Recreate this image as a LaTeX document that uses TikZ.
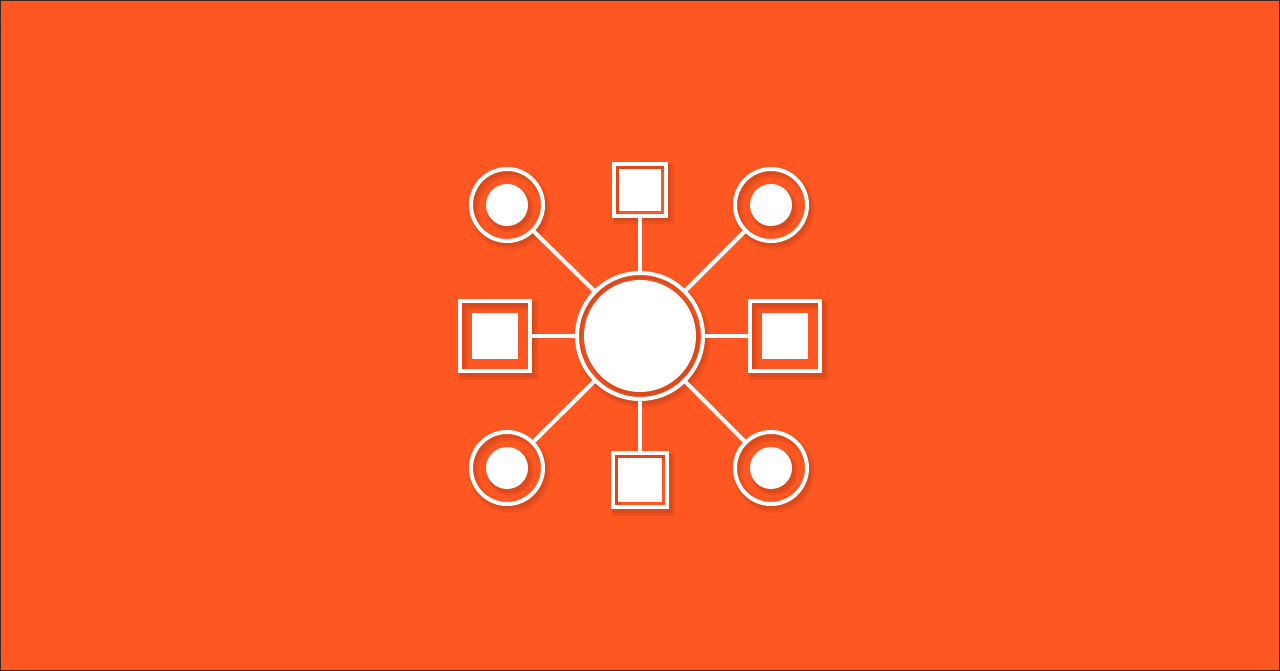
\documentclass[tikz,border=0pt]{standalone}
\usepackage{tikz}
\usetikzlibrary{positioning}

\definecolor{bgorange}{RGB}{255,87,34}
\definecolor{frameline}{RGB}{60,40,30}

\tikzset{
  ring/.style={circle, draw=white, line width=4pt, inner sep=0pt},
  box/.style={rectangle, draw=white, line width=4pt, inner sep=0pt},
  link/.style={white, line width=4pt},
  shade layer/.style={black, opacity=0.07}
}

\begin{document}
\begin{tikzpicture}[x=1pt, y=-1pt]
        % Background
        \fill[bgorange] (0, 0) rectangle (1280, 671);
        \draw[frameline, line width=1pt] (0.5, 0.5) rectangle (1279.5, 670.5);
        \useasboundingbox (0, 0) rectangle (1280, 671);

        % Soft shadows (two layers, shifted down-right)
        \foreach \w/\dx/\dy in {9/3/4, 5/2/3} {
            \begin{scope}[shift={(\dx, \dy)}, shade layer]
                \draw[line width=\w pt] (640, 336) circle (63);
                \fill (640, 336) circle (56 + \w/4);
                \draw[line width=\w pt] (614, 164) rectangle (666, 216);
                \draw[line width=\w pt] (613, 453) rectangle (667, 507);
                \draw[line width=\w pt] (460, 301) rectangle (530, 371);
                \draw[line width=\w pt] (750, 301) rectangle (820, 371);
                \foreach \x/\y in {507/205, 771/205, 507/468, 771/468} {
                    \draw[line width=\w pt] (\x, \y) circle (36);
                    \fill (\x, \y) circle (21 + \w/4);
                }
            \end{scope}
        }

        % Central hub
        \node[ring, minimum size=126pt] (hub) at (640, 336) {};
        \fill[white] (hub.center) circle (56pt);

        % Squares (top, bottom, left, right)
        \node[box, minimum size=52pt] (sqN) at (640, 190) {};
        \node[box, minimum size=54pt] (sqS) at (640, 480) {};
        \node[box, minimum size=70pt] (sqW) at (495, 336) {};
        \node[box, minimum size=70pt] (sqE) at (785, 336) {};
        \fill[white] ([shift={(-21pt,-21pt)}]sqN.center) rectangle ([shift={(21pt,21pt)}]sqN.center);
        \fill[white] ([shift={(-22pt,-22pt)}]sqS.center) rectangle ([shift={(22pt,22pt)}]sqS.center);
        \fill[white] ([shift={(-23pt,-23pt)}]sqW.center) rectangle ([shift={(23pt,23pt)}]sqW.center);
        \fill[white] ([shift={(-23pt,-23pt)}]sqE.center) rectangle ([shift={(23pt,23pt)}]sqE.center);

        % Corner circles
        \node[ring, minimum size=72pt] (cNW) at (507, 205) {};
        \node[ring, minimum size=72pt] (cNE) at (771, 205) {};
        \node[ring, minimum size=72pt] (cSW) at (507, 468) {};
        \node[ring, minimum size=72pt] (cSE) at (771, 468) {};
        \foreach \c in {cNW, cNE, cSW, cSE}
            \fill[white] (\c.center) circle (21pt);

        % Spokes
        \foreach \s in {sqN, sqS, sqW, sqE, cNW, cNE, cSW, cSE}
            \draw[link] (hub) -- (\s);

    \end{tikzpicture}
\end{document}
